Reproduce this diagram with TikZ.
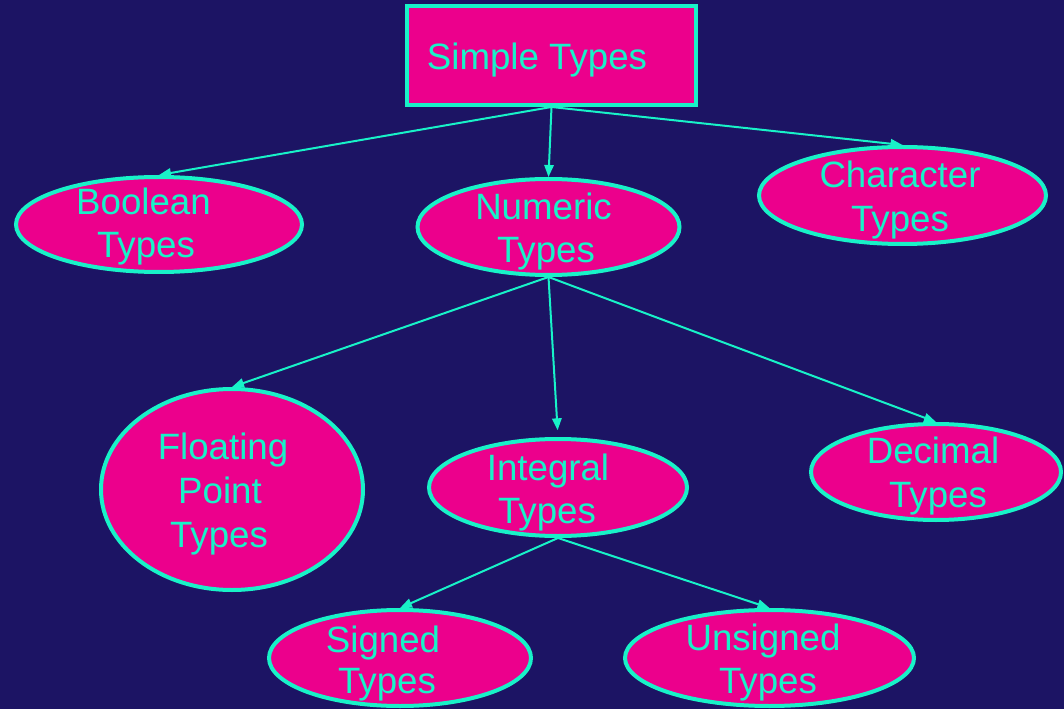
\documentclass[tikz,border=0pt]{standalone}
\usepackage{fontspec}
\setmainfont{Liberation Sans}
\usetikzlibrary{shapes.geometric,arrows.meta}

\definecolor{navybg}{RGB}{28,20,100}
\definecolor{boxfill}{RGB}{236,0,140}
\definecolor{aqua}{RGB}{24,242,200}

\tikzset{
  typebox/.style={draw=aqua, fill=boxfill, line width=3pt, rectangle, inner sep=0pt,
    minimum width=289*0.75pt, minimum height=99*0.75pt},
  typeell/.style 2 args={draw=aqua, fill=boxfill, line width=3pt, ellipse, inner sep=0pt,
    minimum width=#1*0.75pt, minimum height=#2*0.75pt},
  lbl/.style={anchor=base, inner sep=0pt, text=aqua, font=\fontsize{27.5}{33}\selectfont},
  link/.style={draw=aqua, line width=1.5pt, -{Triangle[length=9pt,width=7pt]}}
}

\begin{document}
\begin{tikzpicture}[x=0.75pt, y=-0.75pt]
  % canvas
  \fill[navybg] (0,0) rectangle (1064,709);
  \useasboundingbox (0,0) rectangle (1064,709);

  % shapes
  \node[typebox] (simple) at (551.5,55.5) {};
  \node[typeell={286}{95}] (bool) at (159,224.5) {};
  \node[typeell={262}{96}] (num) at (548.5,227) {};
  \node[typeell={287}{97}] (char) at (902.5,195.5) {};
  \node[typeell={262}{201}] (float) at (232,489.5) {};
  \node[typeell={258}{97}] (integ) at (558,487.5) {};
  \node[typeell={250}{96}] (dec) at (936,472) {};
  \node[typeell={262}{96}] (signed) at (400,658) {};
  \node[typeell={289}{96}] (unsigned) at (769.5,658) {};

  % labels
  \node[lbl] (simpleT) at (537,70) {Simple Types};
  \node[lbl] (boolA) at (143.5,215) {Boolean};
  \node[lbl] (boolB) at (146,258) {Types};
  \node[lbl] (numA) at (543.5,220) {Numeric};
  \node[lbl] (numB) at (546,263) {Types};
  \node[lbl] (charA) at (900,188) {Character};
  \node[lbl] (charB) at (900,232) {Types};
  \node[lbl] (floatA) at (223,459) {Floating};
  \node[lbl] (floatB) at (220,503) {Point};
  \node[lbl] (floatC) at (219,547) {Types};
  \node[lbl] (integA) at (548,480) {Integral};
  \node[lbl] (integB) at (547,523) {Types};
  \node[lbl] (decA) at (933,463) {Decimal};
  \node[lbl] (decB) at (938,507) {Types};
  \node[lbl] (signedA) at (383,652) {Signed};
  \node[lbl] (signedB) at (387,693) {Types};
  \node[lbl] (unsA) at (763,650) {Unsigned};
  \node[lbl] (unsB) at (768,693) {Types};

  % connectors
  \draw[link] (simple.south) -- (bool.north);
  \draw[link] (simple.south) -- (num.north);
  \draw[link] (simple.south) -- (char.north);
  \draw[link] (num.south) -- (float.north);
  \draw[link, shorten >=5pt] (num.south) -- (integ.north);
  \draw[link] (num.south) -- (dec.north);
  \draw[link] (integ.south) -- (signed.north);
  \draw[link] (integ.south) -- (unsigned.north);
\end{tikzpicture}
\end{document}
